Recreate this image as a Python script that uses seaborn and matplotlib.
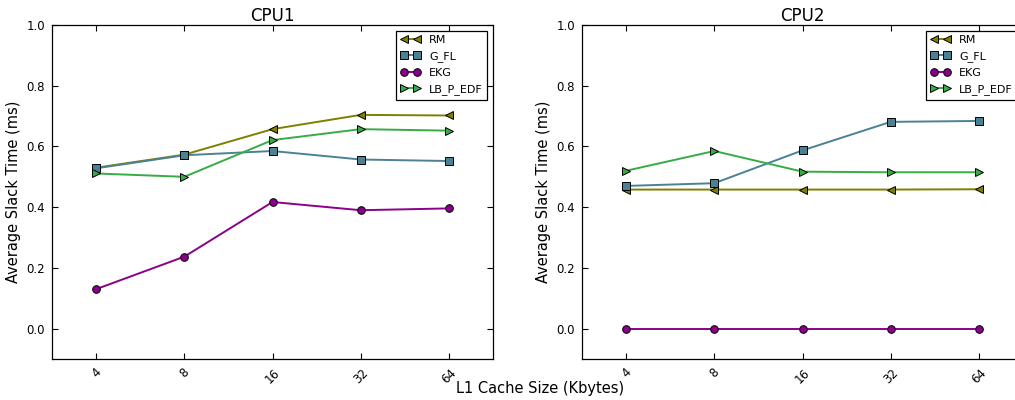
import matplotlib
matplotlib.use("Agg")
import matplotlib.pyplot as plt
import seaborn as sns
import pandas as pd

cache_sizes = ["4", "8", "16", "32", "64"]
series_names = ["RM", "G_FL", "EKG", "LB_P_EDF"]

cpu1_rm = [0.530, 0.573, 0.657, 0.704, 0.702]
cpu1_gfl = [0.528, 0.571, 0.585, 0.557, 0.552]
cpu1_ekg = [0.130, 0.237, 0.417, 0.390, 0.396]
cpu1_lb = [0.511, 0.500, 0.621, 0.657, 0.652]

cpu2_rm = [0.458, 0.458, 0.458, 0.458, 0.459]
cpu2_gfl = [0.470, 0.479, 0.587, 0.681, 0.684]
cpu2_ekg = [0.0, 0.0, 0.0, 0.0, 0.0]
cpu2_lb = [0.520, 0.585, 0.517, 0.515, 0.515]

colors = {"RM": "#7f7f00", "G_FL": "#4a8294", "EKG": "#8b008b", "LB_P_EDF": "#36ac45"}
markers = {"RM": "<", "G_FL": "s", "EKG": "o", "LB_P_EDF": ">"}


def make_df(rm, gfl, ekg, lb):
    rows = []
    for name, vals in zip(series_names, [rm, gfl, ekg, lb]):
        for i, v in enumerate(vals):
            rows.append({"pos": i, "size": cache_sizes[i], "alg": name, "val": v})
    return pd.DataFrame(rows)


sns.set_style("ticks")
plt.rcParams["font.family"] = ["DejaVu Sans"]
plt.rcParams["text.color"] = "black"
plt.rcParams["axes.labelcolor"] = "black"
plt.rcParams["xtick.color"] = "black"
plt.rcParams["ytick.color"] = "black"

fig = plt.figure(figsize=(10.15, 4.0), dpi=100)
W, H = 1015.0, 400.0
ax1 = fig.add_axes([52 / W, 41 / H, 441 / W, 334 / H])
ax2 = fig.add_axes([582 / W, 41 / H, 441 / W, 334 / H])

for ax, df, title in [
    (ax1, make_df(cpu1_rm, cpu1_gfl, cpu1_ekg, cpu1_lb), "CPU1"),
    (ax2, make_df(cpu2_rm, cpu2_gfl, cpu2_ekg, cpu2_lb), "CPU2"),
]:
    for name in series_names:
        sub = df[df["alg"] == name]
        sns.lineplot(data=sub, x="pos", y="val", ax=ax, color=colors[name],
                     marker=markers[name], markersize=5.5, markeredgecolor="black",
                     markeredgewidth=0.7, linewidth=1.4, label=name, sort=False,
                     markerfacecolor=colors[name])
    ax.set_xlim(-0.5, 4.5)
    ax.set_ylim(-0.1, 1.0)
    ax.set_xticks(range(len(cache_sizes)))
    ax.set_xticklabels(cache_sizes, rotation=45, fontsize=8.5, color="black")
    ax.set_yticks([0.0, 0.2, 0.4, 0.6, 0.8, 1.0])
    ax.set_yticklabels(["0.0", "0.2", "0.4", "0.6", "0.8", "1.0"], fontsize=8.5, color="black")
    ax.tick_params(direction="in", top=True, right=True, length=4, width=0.8, pad=5, colors="black")
    for s in ax.spines.values():
        s.set_visible(True)
        s.set_color("black")
        s.set_linewidth(0.9)
    ax.set_title(title, fontsize=12, pad=3, color="black")
    ax.set_xlabel("")
    ax.set_ylabel("Average Slack Time (ms)", fontsize=10.5, color="black")
    leg = ax.legend(loc="upper right", fontsize=8, numpoints=2, fancybox=False,
                    framealpha=1, edgecolor="black", handlelength=1.8,
                    borderaxespad=0.5, borderpad=0.4, labelspacing=0.55,
                    labelcolor="black")
    leg.get_frame().set_linewidth(0.9)

fig.text(540 / W, 1 - 388 / H, "L1 Cache Size (Kbytes)", ha="center", va="center",
         fontsize=10.5, color="black")

fig.savefig("out.png", dpi=100, facecolor="white")
